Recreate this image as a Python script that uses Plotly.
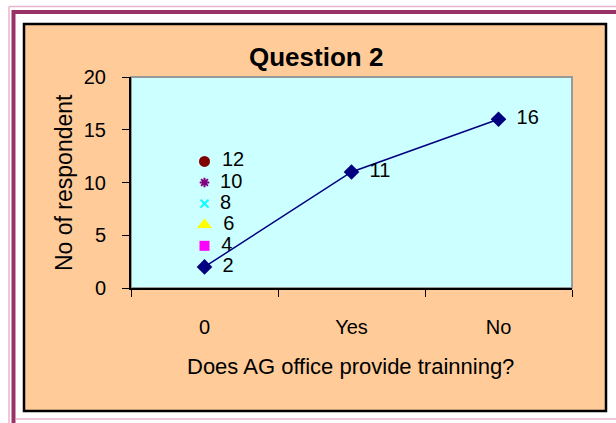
import plotly.graph_objects as go

W, H = 616, 423

categories = ["0", "Yes", "No"]
main_values = [2, 11, 16]
main_labels = ["2", "11", "16"]

extra_values = [4, 6, 8, 10, 12]
extra_symbols = ["square", "triangle-up", "x-thin", "asterisk", "circle"]
extra_colors = ["#FF00FF", "#FFFF00", "#00FFFF", "#800080", "#800000"]
extra_sizes = [10, 13, 8, 8, 11]

y_ticks = [0, 5, 10, 15, 20]

title_text = "Question 2"
x_title = "Does AG office provide trainning?"
y_title = "No of respondent"

FONT = "Arial, Liberation Sans, sans-serif"

# plot area in pixels
PL, PR, PT, PB = 131, 572, 77, 288

def px(x):
    return x / W

def py(y):
    return 1 - y / H

fig = go.Figure()

for v, sym, col, sz in zip(extra_values, extra_symbols, extra_colors, extra_sizes):
    thin = sym in ("x-thin", "asterisk")
    fig.add_trace(go.Scatter(
        x=[categories[0]], y=[v], mode="markers+text",
        text=[" \u2009" + str(v)], textposition="middle right",
        textfont=dict(family=FONT, size=20, color="black"),
        marker=dict(symbol=sym, size=sz, color=col,
                    line=dict(color=col, width=2 if thin else 0)),
        showlegend=False, cliponaxis=False,
    ))

fig.add_trace(go.Scatter(
    x=categories, y=main_values, mode="lines+markers+text",
    text=[" \u2009" + t for t in main_labels], textposition="middle right",
    textfont=dict(family=FONT, size=20, color="black"),
    line=dict(color="#000080", width=1.5),
    marker=dict(symbol="diamond", size=12, color="#000080"),
    showlegend=False, cliponaxis=False,
))

shapes = []
pink = "#E8B4CF"
maroon = "#993366"
shapes.append(dict(type="line", xref="paper", yref="paper", x0=px(9), x1=1, y0=py(6.5), y1=py(6.5), line=dict(color=pink, width=1.5), layer="below"))
shapes.append(dict(type="line", xref="paper", yref="paper", x0=px(9), x1=px(9), y0=py(6.5), y1=0, line=dict(color=pink, width=1.5), layer="below"))
shapes.append(dict(type="line", xref="paper", yref="paper", x0=px(12), x1=1, y0=py(12), y1=py(12), line=dict(color=maroon, width=4), layer="below"))
shapes.append(dict(type="line", xref="paper", yref="paper", x0=px(13.5), x1=px(13.5), y0=py(10), y1=0, line=dict(color=maroon, width=4), layer="below"))
shapes.append(dict(type="line", xref="paper", yref="paper", x0=px(16), x1=1, y0=py(419), y1=py(419), line=dict(color=pink, width=1.5), layer="below"))
shapes.append(dict(type="rect", xref="paper", yref="paper", x0=px(24), x1=px(606), y0=py(24), y1=py(411),
                   fillcolor="#FFCC99", line=dict(color="black", width=2.5), layer="below"))
shapes.append(dict(type="rect", xref="paper", yref="paper", x0=px(PL), x1=px(PR), y0=py(PT), y1=py(PB),
                   fillcolor="#CCFFFF", line=dict(color="#999999", width=2), layer="below"))

fig.update_layout(
    width=W, height=H, autosize=False,
    margin=dict(l=0, r=0, t=0, b=0, pad=0),
    paper_bgcolor="white",
    plot_bgcolor="rgba(0,0,0,0)",
    shapes=shapes,
    showlegend=False,
    font=dict(family=FONT, size=20, color="black"),
    xaxis=dict(
        domain=[px(PL), px(PR)], type="category", categoryorder="array", categoryarray=categories,
        range=[-0.5, 2.5], tickson="boundaries", ticks="outside", ticklen=7, tickcolor="black",
        showline=True, linecolor="black", linewidth=2, showgrid=False, zeroline=False,
        ticklabelstandoff=20, tickfont=dict(size=20), automargin=False,
    ),
    yaxis=dict(
        domain=[py(PB), py(PT)], range=[0, 20], tickvals=y_ticks, ticks="outside", ticklen=7,
        tickcolor="black", showline=True, linecolor="black", linewidth=2, showgrid=False,
        zeroline=False, ticklabelstandoff=12, tickfont=dict(size=20), automargin=False,
    ),
    annotations=[
        dict(text="<b>" + title_text + "</b>", xref="paper", yref="paper", x=px(316), y=py(57),
             showarrow=False, font=dict(size=26), xanchor="center", yanchor="middle"),
        dict(text=x_title, xref="paper", yref="paper", x=px(350), y=py(366),
             showarrow=False, font=dict(size=22), xanchor="center", yanchor="middle"),
        dict(text=y_title, xref="paper", yref="paper", x=px(64), y=py(183), textangle=-90,
             showarrow=False, font=dict(size=23), xanchor="center", yanchor="middle"),
    ],
)

fig.write_html("out.html", config={"displayModeBar": False},
               post_script="document.body.style.margin='0';document.body.style.padding='0';")
